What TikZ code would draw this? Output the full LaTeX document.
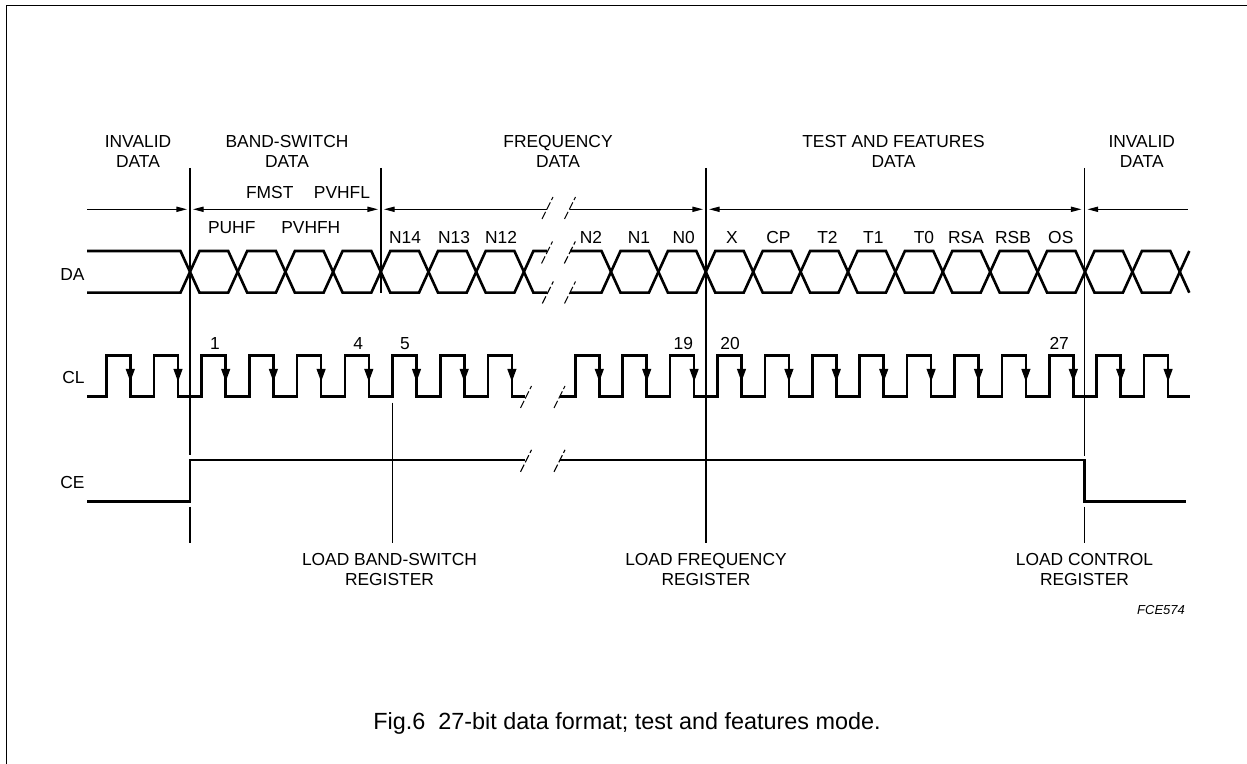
\documentclass[tikz,border=0pt]{standalone}
\usepackage{fontspec}
\setmainfont{Liberation Sans}
\usetikzlibrary{arrows.meta}
\newcommand{\daTop}{251}
\newcommand{\daBot}{292.7}
\newcommand{\clHi}{355.3}
\newcommand{\clLo}{396.7}
\newcommand{\ceHi}{460}
\newcommand{\ceLo}{501.7}
\newcommand{\spanrow}{209.3}
\newcommand{\brkmark}[2]{\draw[brk] ({#1-5.5},{#2+11}) -- ({#1+5.5},{#2-11});}

\begin{document}
\begin{tikzpicture}[x=0.5pt,y=-0.5pt,
  wave/.style={line width=1.3pt},
  marker/.style={line width=0.6pt},
  span/.style={line width=0.6pt},
  brk/.style={line width=0.55pt,dash pattern=on 4pt off 1.3pt},
  fallarrow/.style={line width=1.3pt,-{Triangle[length=6.5pt,width=4.2pt]}},
  >={Triangle[length=5.3pt,width=2.6pt]},
  lbl/.style={font=\fontsize{8.7}{10}\selectfont,inner sep=0pt,align=center}
  ]
\useasboundingbox (0,0) rectangle (1247,764);
\draw[line width=0.65pt] (6.7,764) -- (6.7,5.3) -- (1247,5.3);

% section headings
\node[lbl] (hInvL) at (138,151.7) {INVALID\\DATA};
\node[lbl] (hBand) at (287,151.7) {BAND-SWITCH\\DATA};
\node[lbl] (hFreq) at (558,151.7) {FREQUENCY\\DATA};
\node[lbl] (hTest) at (893.5,151.7) {TEST AND FEATURES\\DATA};
\node[lbl] (hInvR) at (1141.7,151.7) {INVALID\\DATA};

% marker lines
\draw[marker] (190,168) -- (190,455);
\draw[marker] (190,506.7) -- (190,543.3);
\draw[marker] (381,168) -- (381,\daBot);
\draw[marker] (392.5,402.7) -- (392.5,543.3);
\draw[marker] (706,168) -- (706,543.3);
\draw[marker] (1084.5,168) -- (1084.5,456);
\draw[marker] (1084.5,506.7) -- (1084.5,543.3);

% span arrows
\draw[span,->] (87.3,\spanrow) -- (187,\spanrow);
\draw[span,<->] (193,\spanrow) -- (378,\spanrow);
\draw[span,<-] (384,\spanrow) -- (547,\spanrow);
\draw[span,->] (570,\spanrow) -- (703,\spanrow);
\draw[span,<->] (709,\spanrow) -- (1081.5,\spanrow);
\draw[span,<-] (1087.5,\spanrow) -- (1188.3,\spanrow);

% bit labels
\node[lbl,anchor=base] (bFmst) at (269.7,198.7) {FMST};
\node[lbl,anchor=base] (bPvhfl) at (342,198.7) {PVHFL};
\node[lbl,anchor=base] (bPuhf) at (231.7,233.3) {PUHF};
\node[lbl,anchor=base] (bPvhfh) at (310.8,233.3) {PVHFH};
\foreach \x/\t [count=\i] in {405/N14,454/N13,501/N12,591/N2,639/N1,683.7/N0,
    732/X,778.5/CP,827.5/T2,873.3/T1,924/T0,966/RSA,1013/RSB,1060.8/OS}
  \node[lbl,anchor=base] (bit\i) at (\x,243.3) {\t};

% signal names
\node[lbl,anchor=east] (sDA) at (85,275) {DA};
\node[lbl,anchor=east] (sCL) at (85,377.3) {CL};
\node[lbl,anchor=east] (sCE) at (85,482.7) {CE};

% DA
\draw[wave] (87,\daTop) foreach \k in {0,2,4,6} { -- ({190+47.7*\k-9.5},\daTop) -- ({190+47.7*\k+9.5},\daBot)
  -- ({190+47.7*(\k+1)-9.5},\daBot) -- ({190+47.7*(\k+1)+9.5},\daTop) } -- (547,\daTop);
\draw[wave] (87,\daBot) foreach \k in {0,2,4,6} { -- ({190+47.7*\k-9.5},\daBot) -- ({190+47.7*\k+9.5},\daTop)
  -- ({190+47.7*(\k+1)-9.5},\daTop) -- ({190+47.7*(\k+1)+9.5},\daBot) } -- (547,\daBot);
\draw[wave] (570,\daTop) foreach \k in {0,2,...,10} { -- ({611+47.4*\k-9.5},\daTop) -- ({611+47.4*\k+9.5},\daBot)
  -- ({611+47.4*(\k+1)-9.5},\daBot) -- ({611+47.4*(\k+1)+9.5},\daTop) } -- (1170.3,\daTop) -- (1189.3,\daBot);
\draw[wave] (570,\daBot) foreach \k in {0,2,...,10} { -- ({611+47.4*\k-9.5},\daBot) -- ({611+47.4*\k+9.5},\daTop)
  -- ({611+47.4*(\k+1)-9.5},\daTop) -- ({611+47.4*(\k+1)+9.5},\daBot) } -- (1170.3,\daBot) -- (1189.3,\daTop);

% CL
\draw[wave] (87,\clLo) foreach \k in {-2,...,6} { -- ({201.7+47.7*\k},\clLo) -- ({201.7+47.7*\k},\clHi)
  -- ({225.7+47.7*\k},\clHi) -- ({225.7+47.7*\k},\clLo) } -- (525,\clLo);
\draw[wave] (559.5,\clLo) foreach \k in {-1,...,11} { -- ({622.7+47.4*\k},\clLo) -- ({622.7+47.4*\k},\clHi)
  -- ({646.7+47.4*\k},\clHi) -- ({646.7+47.4*\k},\clLo) } -- (1190,\clLo);
\foreach \k in {-2,...,6} \draw[fallarrow] ({225.7+47.7*\k},362) -- ({225.7+47.7*\k},382);
\foreach \k in {-1,...,11} \draw[fallarrow] ({646.7+47.4*\k},362) -- ({646.7+47.4*\k},382);
\foreach \x/\t [count=\i] in {215/1,358.3/4,405/5,683.3/19,730/20,1059.2/27}
  \node[lbl,anchor=base] (num\i) at (\x,349.3) {\t};

% CE
\draw[wave] (87,\ceLo) -- (190,\ceLo) -- (190,\ceHi) -- (525,\ceHi);
\draw[wave] (559.5,\ceHi) -- (1084.5,\ceHi) -- (1084.5,\ceLo) -- (1186,\ceLo);

% breaks
\brkmark{547.5}{208}
\brkmark{570}{208}
\brkmark{547}{252.5}
\brkmark{569.8}{252.5}
\brkmark{547.8}{292.5}
\brkmark{570}{292.5}
\brkmark{526}{397}
\brkmark{559.5}{397}
\brkmark{526}{460.8}
\brkmark{559.5}{460.8}

% load labels
\node[lbl] (ldBand) at (389.5,570) {LOAD BAND-SWITCH\\REGISTER};
\node[lbl] (ldFreq) at (706,570) {LOAD FREQUENCY\\REGISTER};
\node[lbl] (ldCtrl) at (1084.5,570) {LOAD CONTROL\\REGISTER};
\node[inner sep=0pt,font=\itshape\fontsize{6.5}{8}\selectfont] (code) at (1161,610) {FCE574};
\node[inner sep=0pt,anchor=base west,font=\fontsize{11.7}{14}\selectfont] (caption) at (373,729.5)
  {Fig.6\ \ 27-bit data format; test and features mode.};
\end{tikzpicture}
\end{document}
